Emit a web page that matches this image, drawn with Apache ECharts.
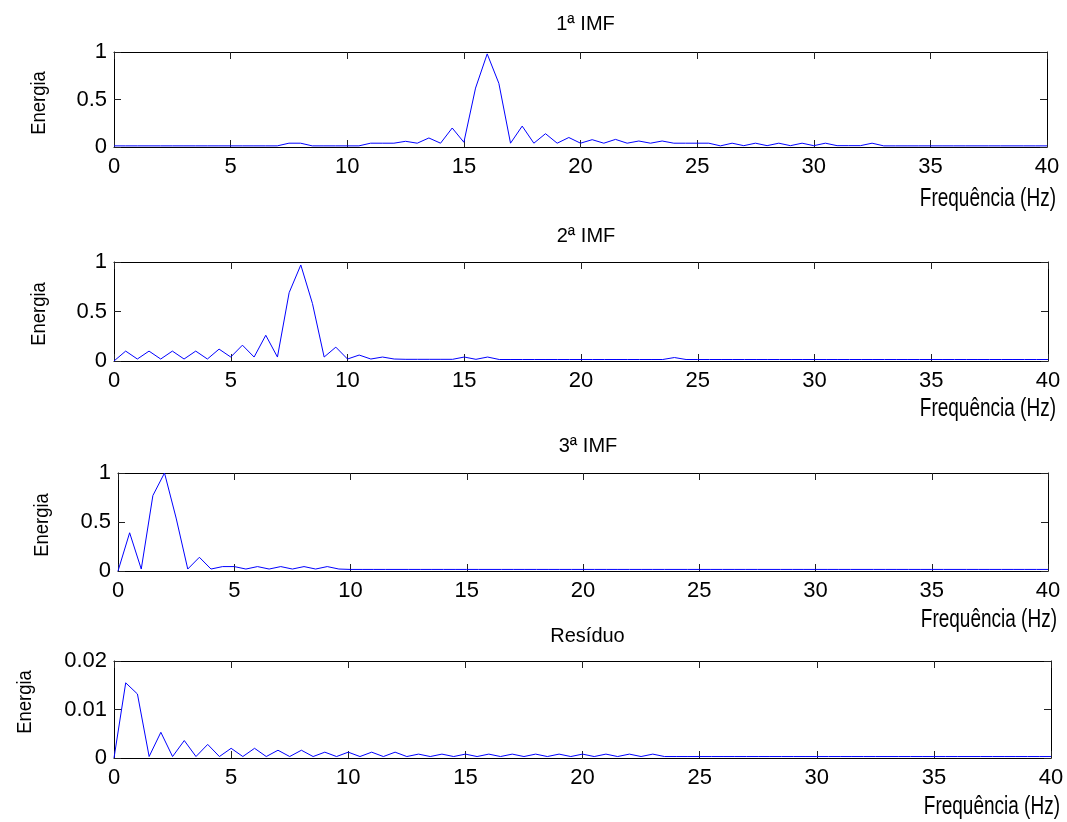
<!DOCTYPE html>
<html>
<head>
<meta charset="utf-8">
<script src="https://cdn.jsdelivr.net/npm/echarts@6/dist/echarts.min.js"></script>
<style>html,body{margin:0;padding:0;background:#fff}#c{width:1067px;height:822px}</style>
</head>
<body>
<div id="c"></div>
<script>
var freqs = [0,0.5,1,1.5,2,2.5,3,3.5,4,4.5,5,5.5,6,6.5,7,7.5,8,8.5,9,9.5,10,10.5,11,11.5,12,12.5,13,13.5,14,14.5,15,15.5,16,16.5,17,17.5,18,18.5,19,19.5,20,20.5,21,21.5,22,22.5,23,23.5,24,24.5,25,25.5,26,26.5,27,27.5,28,28.5,29,29.5,30,30.5,31,31.5,32,32.5,33,33.5,34,34.5,35,35.5,36,36.5,37,37.5,38,38.5,39,39.5,40];
var xTicks = [0,5,10,15,20,25,30,35,40];
var titles = ["1ª IMF","2ª IMF","3ª IMF","Resíduo"];
var yLabel = "Energia";
var xLabel = "Frequência (Hz)";
var yMax = [1,1,1,0.02];

var imf1 = [0.012,0.012,0.012,0.012,0.012,0.012,0.012,0.012,0.012,0.012,0.012,0.012,0.012,0.012,0.012,
  0.04,0.04,0.012,0.012,0.012,0.012,0.012,0.04,0.04,0.04,0.06,0.04,0.095,0.04,0.2,0.05,0.62,0.98,0.67,0.04,0.22,0.04,0.14,0.04,0.1,
  0.04,0.077,0.04,0.08,0.04,0.063,0.04,0.063,0.04,0.04,0.04,0.04,0.012,0.04,0.014,0.04,0.014,0.04,0.014,0.04,0.014,0.04,0.014,0.014,0.014,0.04,0.012,
  0.012,0.012,0.012,0.012,0.012,0.012,0.012,0.012,0.012,0.012,0.012,0.012,0.012,0.012];
var imf2 = [0,0.1,0.02,0.1,0.02,0.1,0.02,0.1,0.02,0.12,0.04,0.16,0.04,0.26,0.04,0.69,0.97,0.58,0.04,0.14,0.02,0.06,0.02,0.04,0.02,
  0.017,0.017,0.017,0.017,0.017,0.04,0.017,0.04,
  0.015,0.015,0.015,0.015,0.015,0.015,0.015,0.015,0.015,0.015,0.015,0.015,0.015,0.015,0.015,0.035,
  0.015,0.015,0.015,0.015,0.015,0.015,0.015,0.015,0.015,0.015,0.015,0.015,0.015,0.015,0.015,0.015,
  0.015,0.015,0.015,0.015,0.015,0.015,0.015,0.015,0.015,0.015,0.015,0.015,0.015,0.015,0.015,0.015];
var imf3 = [0,0.39,0.02,0.77,1.0,0.54,0.02,0.14,0.02,0.045,0.045,0.02,0.045,0.02,0.045,0.02,0.045,0.02,0.045,0.02,
  0.016,0.016,0.016,0.016,0.016,0.016,0.016,0.016,0.016,0.016,0.016,0.016,0.016,0.016,0.016,0.016,0.016,0.016,0.016,0.016,
  0.016,0.016,0.016,0.016,0.016,0.016,0.016,0.016,0.016,0.016,0.016,0.016,0.016,0.016,0.016,0.016,0.016,0.016,0.016,0.016,
  0.016,0.016,0.016,0.016,0.016,0.016,0.016,0.016,0.016,0.016,0.016,0.016,0.016,0.016,0.016,0.016,0.016,0.016,0.016,0.016,0.016];
var residuo = [0,0.0155,0.0132,0.0003,0.0053,0.0003,0.0036,0.0003,0.0028,0.0003,0.002,0.0003,0.002,0.0003,0.0016,0.0003,0.0016,0.0003,
  0.0012,0.0003,0.0012,0.0003,0.0012,0.0003,0.0012,0.0003,0.0008,0.0003,0.0008,0.0003,0.0008,0.0003,0.0008,0.0003,0.0008,0.0003,
  0.0008,0.0003,0.0008,0.0003,0.0008,0.0003,0.0008,0.0003,0.0008,0.0003,0.0008,
  0.0003,0.0003,0.0003,0.0003,0.0003,0.0003,0.0003,0.0003,0.0003,0.0003,0.0003,0.0003,0.0003,0.0003,0.0003,0.0003,0.0003,
  0.0003,0.0003,0.0003,0.0003,0.0003,0.0003,0.0003,0.0003,0.0003,0.0003,0.0003,0.0003,0.0003,0.0003,0.0003,0.0003,0.0003,0.0003];
var seriesData = [imf1, imf2, imf3, residuo];

var grids = [
  {left:114, right:1067-1047, top:52, height:95},
  {left:114, right:1067-1048, top:262, height:99},
  {left:118, right:1067-1048, top:473, height:98},
  {left:114, right:1067-1051, top:661, height:97}
];
var titleY = [19, 231, 441, 631];
var energiaPos = [[39,103],[39,314],[42,525],[25,702]];
var freqPos = [[1056,199],[1056,409],[1057,620],[1060,807]];

var font = "'Liberation Sans', Arial, sans-serif";
var xAxes = [], yAxes = [], series = [], titleArr = [], graphics = [];
grids.forEach(function(g, i){
  var tick = {show:true, inside:true, length:7, lineStyle:{color:'#222', width:1}};
  var line = {show:true, onZero:false, lineStyle:{color:'#000', width:1}};
  xAxes.push({type:'value', gridIndex:i, position:'bottom', min:0, max:40, interval:5,
    axisLine:line, axisTick:tick, splitLine:{show:false},
    axisLabel:{show:true, color:'#000', fontSize:22, fontFamily:font, margin:9}});
  xAxes.push({type:'value', gridIndex:i, position:'top', min:0, max:40, interval:5,
    axisLine:line, axisTick:tick, splitLine:{show:false}, axisLabel:{show:false}});
  yAxes.push({type:'value', gridIndex:i, position:'left', min:0, max:yMax[i], interval:yMax[i]/2,
    axisLine:line, axisTick:tick, splitLine:{show:false},
    axisLabel:{show:true, color:'#000', fontSize:22, fontFamily:font, margin:7}});
  yAxes.push({type:'value', gridIndex:i, position:'right', min:0, max:yMax[i], interval:yMax[i]/2,
    axisLine:line, axisTick:tick, splitLine:{show:false}, axisLabel:{show:false}});
  series.push({type:'line', xAxisIndex:2*i, yAxisIndex:2*i, showSymbol:false, symbol:'none',
    lineStyle:{color:'#0000ff', width:1}, z:5,
    data: freqs.map(function(f, k){ return [f, seriesData[i][k]]; })});
  titleArr.push({text:titles[i], left:(g.left + (1067 - g.right))/2, top:titleY[i], textAlign:'center', textVerticalAlign:'middle',
    textStyle:{fontSize:20, fontWeight:'normal', color:'#000', fontFamily:font}});
  graphics.push({type:'text', x:energiaPos[i][0], y:energiaPos[i][1], rotation:Math.PI/2, scaleX:0.92,
    style:{text:yLabel, fill:'#000', font:"20px 'Liberation Sans Narrow', 'Liberation Sans', sans-serif", textAlign:'center', textVerticalAlign:'middle'}});
  graphics.push({type:'text', x:freqPos[i][0], y:freqPos[i][1], scaleX:0.76,
    style:{text:xLabel, fill:'#000', font:"25px 'Liberation Sans Narrow', 'Liberation Sans', sans-serif", textAlign:'right', textVerticalAlign:'middle'}});
});

var chart = echarts.init(document.getElementById('c'), null, {renderer:'canvas'});
chart.setOption({
  animation:false,
  backgroundColor:'#fff',
  title:titleArr,
  grid:grids,
  xAxis:xAxes,
  yAxis:yAxes,
  series:series,
  graphic:graphics
});
</script>
</body>
</html>
